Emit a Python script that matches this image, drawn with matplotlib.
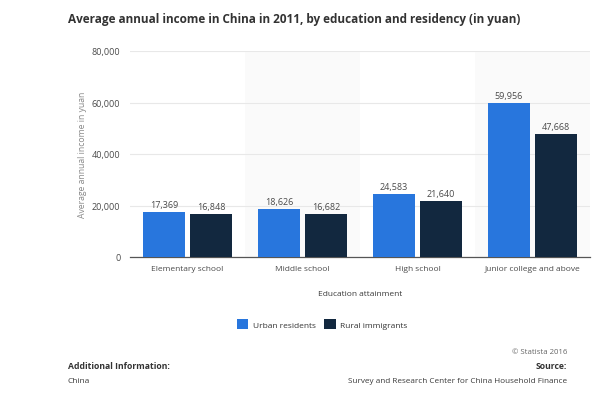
import matplotlib
matplotlib.use("Agg")
import matplotlib.pyplot as plt
import numpy as np
from matplotlib.patches import Patch

plt.rcParams['font.family'] = ['Open Sans', 'DejaVu Sans']

categories = ["Elementary school", "Middle school", "High school", "Junior college and above"]
urban = [17369, 18626, 24583, 59956]
rural = [16848, 16682, 21640, 47668]
series_names = ["Urban residents", "Rural immigrants"]
yticks = [0, 20000, 40000, 60000, 80000]

c_urban = "#2876dd"
c_rural = "#12283f"

W, H = 609, 402
fig = plt.figure(figsize=(W/100, H/100), dpi=100)
ax = fig.add_axes([130/W, 1-258/H, (590-130)/W, (258-52)/H])

x = np.arange(len(categories))
bw = 0.365
gap = 0.045
for i in range(len(categories)):
    if i % 2 == 1:
        ax.axvspan(i-0.5, i+0.5, color="#fafafa", zorder=0, lw=0)
b1 = ax.bar(x - bw/2 - gap/2, urban, bw, color=c_urban, zorder=3)
b2 = ax.bar(x + bw/2 + gap/2, rural, bw, color=c_rural, zorder=3)
for bars, vals in ((b1, urban), (b2, rural)):
    for r, v in zip(bars, vals):
        ax.text(r.get_x()+r.get_width()/2, v+1200, f"{v:,}", ha="center", va="bottom",
                fontsize=6.5, color="#4a4a4a", zorder=4)

ax.set_xlim(-0.5, len(categories)-0.5)
ax.set_ylim(0, 80000)
ax.set_yticks(yticks)
ax.set_yticklabels([f"{t:,}" for t in yticks])
ax.set_xticks(x)
ax.set_xticklabels(categories)
ax.tick_params(axis="y", length=0, labelsize=6.5, labelcolor="#4a4a4a", pad=7)
ax.tick_params(axis="x", length=0, labelsize=6, labelcolor="#4a4a4a", pad=6)
ax.grid(axis="y", color="#e8e8e8", lw=0.8, zorder=1)
for s in ("top", "right", "left"):
    ax.spines[s].set_visible(False)
ax.spines["bottom"].set_color("#555555")
ax.spines["bottom"].set_linewidth(0.9)
ax.set_ylabel("Average annual income in yuan", fontsize=6.2, color="#888888", labelpad=3)
ax.set_xlabel("Education attainment", fontsize=6, color="#3a3a3a", labelpad=13)

handles = [Patch(facecolor=c_urban), Patch(facecolor=c_rural)]
fig.legend(handles, series_names, loc="center", bbox_to_anchor=(322/W, 1-325/H), ncol=2,
           frameon=False, fontsize=6, handlelength=1.4, handleheight=1.4, handletextpad=0.5,
           columnspacing=1.0, labelcolor="#333333")

fig.text(68/W, 1-20/H, "Average annual income in China in 2011, by education and residency (in yuan)",
         fontsize=8.5, fontweight="bold", color="#333333", va="center", ha="left")
fig.text(567/W, 1-353/H, "© Statista 2016", fontsize=5.6, color="#666666", ha="right", va="center")
fig.text(68/W, 1-367/H, "Additional Information:", fontsize=6.2, fontweight="bold", color="#333333", va="center")
fig.text(567/W, 1-367/H, "Source:", fontsize=6.2, fontweight="bold", color="#333333", va="center", ha="right")
fig.text(68/W, 1-382/H, "China", fontsize=6, color="#3a3a3a", va="center")
fig.text(567/W, 1-382/H, "Survey and Research Center for China Household Finance", fontsize=5.9,
         color="#3a3a3a", va="center", ha="right")

fig.savefig("out.png", dpi=100, facecolor="white")
